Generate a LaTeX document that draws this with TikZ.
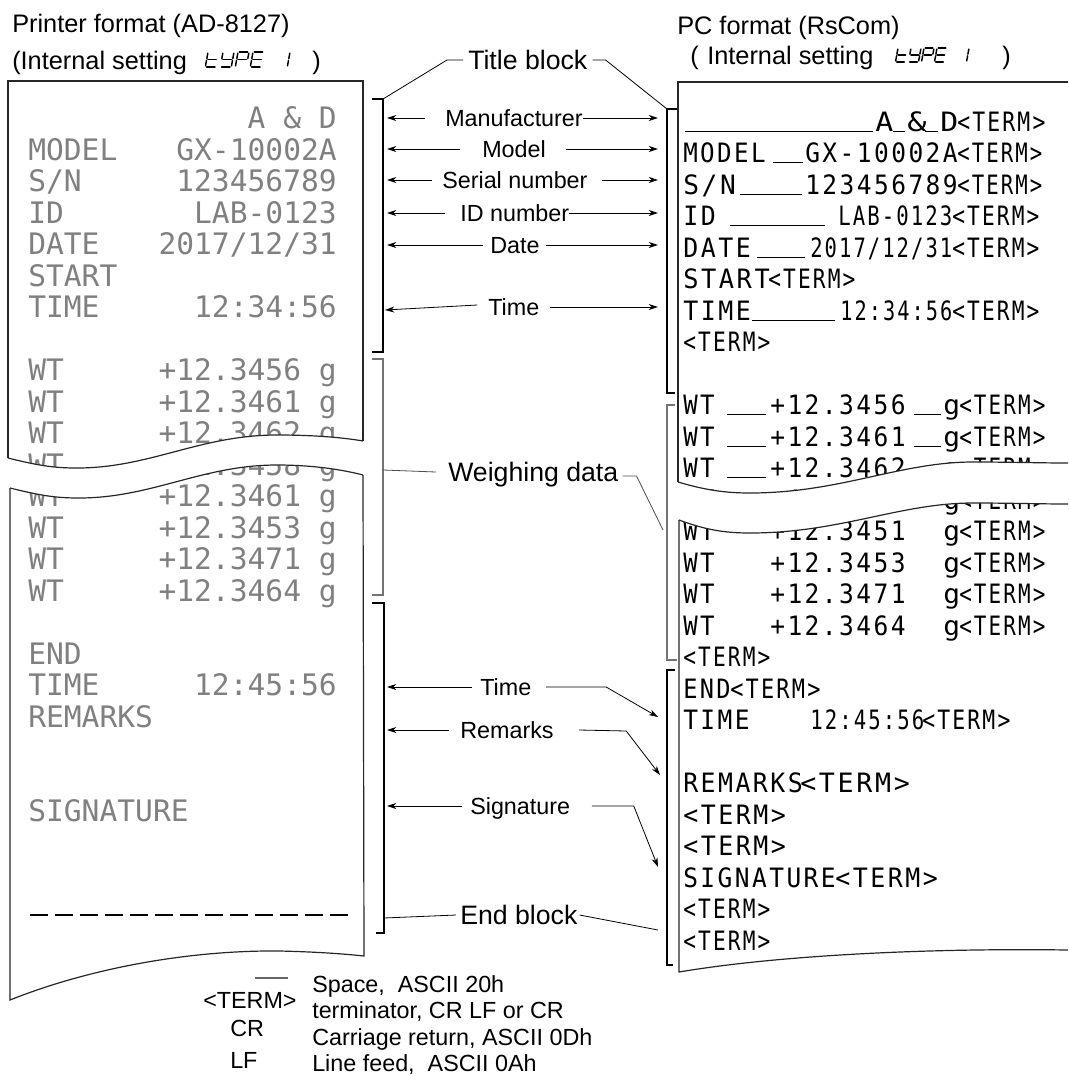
\documentclass[tikz,border=0pt]{standalone}
\usepackage{fontspec}
\setmainfont{Liberation Sans}
\newfontfamily\dotfont{DejaVu Sans Mono}
\newfontfamily\pcfont[LetterSpace=10]{DejaVu Sans Mono}
\usepackage{graphicx}
\usetikzlibrary{arrows.meta,calc}

\newlength\upx \setlength\upx{0.75pt}
\newcount\nodecnt
% seven segment pieces in a unit cell (x 0..1, y 0 top .. 1 bottom)
\def\svsA{(0.12,0)--(0.88,0)}
\def\svsB{(1,0.08)--(1,0.44)}
\def\svsC{(1,0.56)--(1,0.92)}
\def\svsD{(0.12,1)--(0.88,1)}
\def\svsE{(0,0.56)--(0,0.92)}
\def\svsF{(0,0.08)--(0,0.44)}
\def\svsG{(0.12,0.5)--(0.88,0.5)}
\newcommand\sevseg[5]{%
  \begin{scope}[shift={(#1,#2)},x={(#3*0.75pt,0pt)},y={(-0.18*#4*0.75pt,-#4*0.75pt)}]
    \foreach \s in {#5}{\expandafter\draw\csname svs\s\endcsname;}
  \end{scope}}
\newcommand\pcs[4]{\global\advance\nodecnt by 1
  \node[pctext] (pc\the\nodecnt) at (#1,{131+31.5*#2}) {\resizebox{#3\upx}{\height}{#4\hspace{-2pt}}};}
\newcommand\ulx[3]{\draw[ulst] (#1,{131+31.5*#3}) -- (#2,{131+31.5*#3});}
\newcommand\dtl[2]{\global\advance\nodecnt by 1
  \node[dotl] (dt\the\nodecnt) at (28,{128.8+31.5*#1}) {#2};}
\newcommand\dtr[2]{\global\advance\nodecnt by 1
  \node[dotr] (dt\the\nodecnt) at (337,{128.8+31.5*#1}) {#2};}

\tikzset{
  hdr/.style={font=\fontsize{19}{22}\selectfont,inner sep=0pt,anchor=west,text height=13.6pt,text depth=0pt},
  lbl/.style={font=\fontsize{17.5}{21}\selectfont,inner sep=0pt,anchor=west,text height=12.5pt,text depth=0pt},
  big/.style={font=\fontsize{20}{24}\selectfont,inner sep=0pt,anchor=west,text height=14.3pt,text depth=0pt},
  dotl/.style={font=\dotfont\fontsize{22.2}{26}\selectfont,text=black!50,anchor=base west,inner sep=0pt},
  dotr/.style={dotl,anchor=base east},
  pctext/.style={font=\pcfont\fontsize{20}{24}\selectfont,anchor=base west,inner sep=0pt},
  ulst/.style={line width=0.75pt},
  paper/.style={draw=black!85,line width=0.9pt},
  conn/.style={line width=0.6pt},
  arr/.style={conn,-{Stealth[length=7pt,width=4.5pt]}},
  brk/.style={line width=0.8pt},
  gbrk/.style={line width=0.8pt,draw=black!55},
  segst/.style={line width=1.1pt,line cap=round},
}

\begin{document}
\begin{tikzpicture}[x=0.75pt,y=-0.75pt]
\useasboundingbox (0,0) rectangle (1068,1075);

% ---------- headers ----------
\node[hdr] (h1) at (12,23) {Printer format (AD-8127)};
\node[hdr] (h2) at (12,60) {(Internal setting};
\node[hdr] (h3) at (312,60) {)};
\begin{scope}[segst]
\sevseg{208}{52}{11}{15}{D,E,F,G}
\sevseg{223}{52}{11}{15}{B,C,D,F,G}
\sevseg{238}{52}{11}{15}{A,B,E,F,G}
\sevseg{253}{52}{11}{15}{A,D,E,F,G}
\sevseg{279}{52}{11}{15}{B,C}
\end{scope}
\node[hdr] (h4) at (677,25) {PC format (RsCom)};
\node[hdr] (h5) at (690,55) {(};
\node[hdr] (h6) at (707,55) {Internal setting};
\node[hdr] (h7) at (1002,55) {)};
\begin{scope}[segst]
\sevseg{898}{48}{10}{14}{D,E,F,G}
\sevseg{911}{48}{10}{14}{B,C,D,F,G}
\sevseg{924}{48}{10}{14}{A,B,E,F,G}
\sevseg{937}{48}{10}{14}{A,D,E,F,G}
\sevseg{959}{48}{10}{14}{B,C}
\end{scope}

% ---------- printer (left) text ----------
\dtr{0}{A \& D}
\dtl{1}{MODEL}\dtr{1}{GX-10002A}
\dtl{2}{S/N}\dtr{2}{123456789}
\dtl{3}{ID}\dtr{3}{LAB-0123}
\dtl{4}{DATE}\dtr{4}{2017/12/31}
\dtl{5}{START}
\dtl{6}{TIME}\dtr{6}{12:34:56}
\dtl{8}{WT}\dtr{8}{+12.3456 g}
\dtl{9}{WT}\dtr{9}{+12.3461 g}
\dtl{10}{WT}\dtr{10}{+12.3462 g}
\dtl{11}{WT}\dtr{11}{+12.3458 g}
\dtl{12}{WT}\dtr{12}{+12.3461 g}
\dtl{13}{WT}\dtr{13}{+12.3453 g}
\dtl{14}{WT}\dtr{14}{+12.3471 g}
\dtl{15}{WT}\dtr{15}{+12.3464 g}
\dtl{17}{END}
\dtl{18}{TIME}\dtr{18}{12:45:56}
\dtl{19}{REMARKS}
\dtl{22}{SIGNATURE}
\draw[line width=0.8pt,dash pattern=on 13.5pt off 5.25pt] (30,915) -- (353,915);

% ---------- PC (right) text ----------
\ulx{685}{873}{0}\pcs{875}{0}{15}{A}\ulx{893}{905}{0}\pcs{907}{0}{16}{\&}\ulx{925}{938}{0}\pcs{940}{0}{15}{D}\pcs{957}{0}{86}{<TERM>}
\pcs{683}{1}{80}{MODEL}\ulx{773}{803}{1}\pcs{805}{1}{150}{GX-10002A}\pcs{957}{1}{83}{<TERM>}
\pcs{683}{2}{50}{S/N}\ulx{740}{802}{2}\pcs{805}{2}{150}{123456789}\pcs{957}{2}{83}{<TERM>}
\pcs{683}{3}{30}{ID}\ulx{730}{825}{3}\pcs{838}{3}{112}{LAB-0123}\pcs{952}{3}{85}{<TERM>}
\pcs{683}{4}{65}{DATE}\ulx{757}{805}{4}\pcs{810}{4}{140}{2017/12/31}\pcs{952}{4}{85}{<TERM>}
\pcs{683}{5}{84}{START}\pcs{768}{5}{85}{<TERM>}
\pcs{683}{6}{65}{TIME}\ulx{752}{835}{6}\pcs{840}{6}{110}{12:34:56}\pcs{952}{6}{85}{<TERM>}
\pcs{683}{7}{85}{<TERM>}
\foreach \k/\v in {9/3456,10/3461,11/3462}{
  \pcs{683}{\k}{29}{WT}\ulx{727}{766}{\k}\pcs{770}{\k}{133}{+12.\v}\ulx{914}{941}{\k}\pcs{943}{\k}{14}{g}\pcs{959}{\k}{84}{<TERM>}
}
\foreach \k/\v in {12/3461,13/3451,14/3453,15/3471,16/3464}{
  \pcs{683}{\k}{29}{WT}\pcs{770}{\k}{133}{+12.\v}\pcs{943}{\k}{14}{g}\pcs{959}{\k}{84}{<TERM>}
}
\pcs{683}{17}{85}{<TERM>}
\pcs{683}{18}{45}{END}\pcs{730}{18}{88}{<TERM>}
\pcs{683}{19}{64}{TIME}\pcs{810}{19}{112}{12:45:56}\pcs{922}{19}{86}{<TERM>}
\pcs{683}{21}{117}{REMARKS}\pcs{800}{21}{107}{<TERM>}
\pcs{683}{22}{100}{<TERM>}
\pcs{683}{23}{100}{<TERM>}
\pcs{683}{24}{150}{SIGNATURE}\pcs{835}{24}{100}{<TERM>}
\pcs{683}{25}{85}{<TERM>}
\pcs{683}{26}{85}{<TERM>}

% ---------- tear bands ----------
\fill[white] (8,458) .. controls (40,466) and (55,468) .. (77,468) .. controls (150,468) and (200,435) .. (277,435) .. controls (310,435) and (340,437) .. (363,441)
  -- (363,475) .. controls (340,469) and (310,465) .. (277,465) .. controls (202,465) and (152,498) .. (79,498) .. controls (57,498) and (42,496) .. (10,488) -- cycle;
\fill[white] (678,482) .. controls (705,490) and (725,493) .. (750,493) .. controls (840,493) and (900,462) .. (973,462) .. controls (1010,462) and (1040,463) .. (1068,463)
  -- (1068,504) .. controls (1040,504) and (1010,503) .. (973,503) .. controls (900,503) and (840,533) .. (750,533) .. controls (725,533) and (706,530) .. (679,520) -- cycle;

% ---------- papers ----------
\draw[paper] (8,458) -- (8,81) -- (363,81) -- (363,441);
\draw[paper] (8,458) .. controls (40,466) and (55,468) .. (77,468) .. controls (150,468) and (200,435) .. (277,435) .. controls (310,435) and (340,437) .. (363,441);
\draw[paper] (10,488) .. controls (42,496) and (57,498) .. (79,498) .. controls (152,498) and (202,465) .. (277,465) .. controls (310,465) and (340,469) .. (363,475);
\draw[paper] (10,488) -- (10,1000) .. controls (90,968) and (190,950) .. (280,951) .. controls (320,952) and (345,954) .. (364,956) -- (363,475);
\draw[paper] (678,482) -- (678,82) -- (1068,82);
\draw[paper] (678,482) .. controls (705,490) and (725,493) .. (750,493) .. controls (840,493) and (900,462) .. (973,462) .. controls (1010,462) and (1040,463) .. (1068,463);
\draw[paper] (679,520) .. controls (706,530) and (725,533) .. (750,533) .. controls (840,533) and (900,503) .. (973,503) .. controls (1010,503) and (1040,504) .. (1068,504);
\draw[paper] (679,520) -- (679,972) .. controls (780,955) and (930,948) .. (1068,950);

% ---------- brackets ----------
\draw[brk] (372,99) -- (383,99) -- (383,352) -- (372,352);
\draw[gbrk] (372,359) -- (383,359) -- (383,595) -- (372,595);
\draw[brk] (372,603) -- (384,603) -- (384,933) -- (376,933);
\draw[brk] (677,109) -- (667,109) -- (667,393) -- (675,393);
\draw[gbrk] (675,405) -- (667,405) -- (667,660) -- (677,660);
\draw[brk] (675,670) -- (667,670) -- (667,965) -- (673,965);
\coordinate (LB) at (387,0);
\coordinate (RB) at (658,0);

% ---------- middle labels ----------
\node[big] (tb) at (468,60) {Title block};
\draw[conn] ([xshift=-3.75pt]tb.west) -- ++(-16,0) -- (383,99);
\draw[conn] ([xshift=3.75pt]tb.east) -- ++(13,0) -- (667,109);

\node[lbl] (man) at (445,118) {Manufacturer};
\draw[arr] ([xshift=-15pt]man.west) -- (man.west -| LB);
\draw[arr] (man.east) -- (man.east -| RB);
\node[lbl] (mod) at (482,149) {Model};
\draw[arr] ([xshift=-16.5pt]mod.west) -- (mod.west -| LB);
\draw[arr] ([xshift=15pt]mod.east) -- (mod.east -| RB);
\node[lbl] (ser) at (442,180) {Serial number};
\draw[arr] ([xshift=-7.5pt]ser.west) -- (ser.west -| LB);
\draw[arr] ([xshift=11pt]ser.east) -- (ser.east -| RB);
\node[lbl] (idn) at (460,213) {ID number};
\draw[arr] ([xshift=-11pt]idn.west) -- (idn.west -| LB);
\draw[arr] (idn.east) -- (idn.east -| RB);
\node[lbl] (dat) at (490,245) {Date};
\draw[arr] ([xshift=-5pt]dat.west) -- (dat.west -| LB);
\draw[arr] ([xshift=5pt]dat.east) -- (dat.east -| RB);
\node[lbl] (tm1) at (488,307) {Time};
\coordinate (tm1l) at (385,310);
\draw[arr] ([xshift=-8pt,yshift=1.5pt]tm1.west) -- (tm1l);
\draw[arr] ([xshift=7.5pt]tm1.east) -- (tm1.east -| RB);

\node[big] (wd) at (448,472) {Weighing data};
\draw[conn,draw=black!70] (383,470) -- ([xshift=-9pt]wd.west);
\coordinate (wdr) at (663,530);
\draw[conn,draw=black!70] ([xshift=3pt,yshift=-3pt]wd.east) -- ++(14,0) -- (wdr);

\node[lbl] (tm2) at (480,687) {Time};
\coordinate (tm2r) at (658,717);
\draw[arr] ([xshift=-6pt]tm2.west) -- (tm2.west -| LB);
\draw[arr] ([xshift=11pt]tm2.east) -- ++(60,0) -- (tm2r);
\node[lbl] (rem) at (460,730) {Remarks};
\coordinate (remr) at (660,775);
\draw[arr] ([xshift=-8pt]rem.west) -- (rem.west -| LB);
\draw[arr] ([xshift=19pt]rem.east) -- ++(47,1) -- (remr);
\node[lbl] (sig) at (470,806) {Signature};
\coordinate (sigr) at (658,867);
\draw[arr] ([xshift=-6pt]sig.west) -- (sig.west -| LB);
\draw[arr] ([xshift=16pt]sig.east) -- ++(42,0) -- (sigr);

\node[big] (eb) at (460,915) {End block};
\draw[conn] (384,918) -- ([xshift=-3pt]eb.west);
\coordinate (ebr) at (658,930);
\draw[conn] ([xshift=1.5pt]eb.east) -- (ebr);

% ---------- legend ----------
\draw[line width=0.8pt,draw=black!60] (255,978) -- (288,978);
\node[lbl] (lg1) at (203,1000) {<TERM>};
\node[lbl] (lg2) at (230,1028) {CR};
\node[lbl] (lg3) at (230,1060) {LF};
\node[lbl] (lg4) at (312,984) {Space,\ \ ASCII 20h};
\node[lbl] (lg5) at (312,1010) {terminator, CR LF or CR};
\node[lbl] (lg6) at (312,1037) {Carriage return, ASCII 0Dh};
\node[lbl] (lg7) at (312,1063) {Line feed,\ \ ASCII 0Ah};
\end{tikzpicture}
\end{document}
